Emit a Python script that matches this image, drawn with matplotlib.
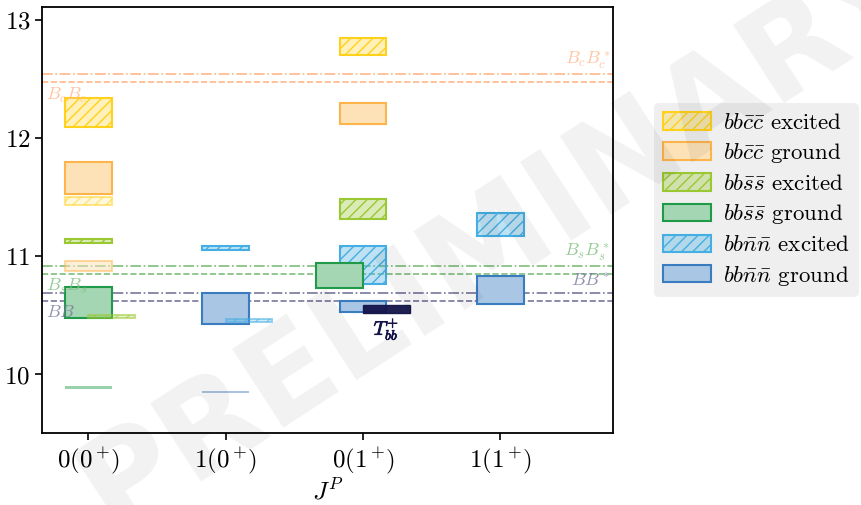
import matplotlib
matplotlib.use("Agg")
import matplotlib.pyplot as plt
import matplotlib.patheffects as pe
from matplotlib.colors import to_rgba
from matplotlib.patches import Rectangle, Patch

plt.rcParams['font.family'] = 'serif'
plt.rcParams['font.serif'] = ['cmr10', 'DejaVu Serif']
plt.rcParams['mathtext.fontset'] = 'cm'
plt.rcParams['axes.formatter.use_mathtext'] = True
plt.rcParams['axes.unicode_minus'] = False
plt.rcParams['hatch.linewidth'] = 1.0

# --- data (GeV) : (column, low, high) ---
columns = [r'$0(0^+\!)$', r'$1(0^+\!)$', r'$0(1^+\!)$', r'$1(1^+\!)$']

cc_exc = [(0, 12.10, 12.34), (2, 12.71, 12.85)]
cc_gnd = [(0, 11.53, 11.80), (2, 12.12, 12.30)]
ss_exc = [(0, 11.117, 11.151), (2, 11.32, 11.49)]
ss_gnd = [(0, 10.48, 10.74)]
nn_exc = [(1, 11.055, 11.089), (2, 10.77, 11.09), (3, 11.17, 11.37)]
nn_gnd = [(1, 10.43, 10.69), (2, 10.53, 10.62), (3, 10.60, 10.83)]

# fainter levels
cc_exc_faint = [(0, 11.434, 11.505)]
cc_gnd_faint = [(0, 10.88, 10.96)]
ss_gnd_faint = [(0, 9.877, 9.902)]
nn_gnd_faint = [(1, 9.84, 9.86)]

# levels drawn beside the column
ss_exc_right = [(0, 10.48, 10.50)]
nn_exc_right = [(1, 10.445, 10.467)]
ss_gnd_left = [(2, 10.73, 10.94)]
tbb = [(2, 10.52, 10.59)]

# thresholds: (name, value)
thr_cc = [('$B_cB_c$', 12.478), ('$B_cB_c^*$', 12.542)]
thr_ss = [('$B_sB_s$', 10.854), ('$B_sB_s^*$', 10.917)]
thr_nn = [('$BB$', 10.623), ('$BB^*$', 10.690)]

styles = {
    'cc_exc': dict(ec='#FFD11A', fc='#FFD11A', fa=0.30, hatch='///'),
    'cc_gnd': dict(ec='#FDB44B', fc='#FDE2B8', fa=1.0, hatch=None),
    'ss_exc': dict(ec='#9AC832', fc='#9AC832', fa=0.35, hatch='///'),
    'ss_gnd': dict(ec='#1E9A48', fc='#A5D6B4', fa=1.0, hatch=None),
    'nn_exc': dict(ec='#45AEE2', fc='#45AEE2', fa=0.35, hatch='///'),
    'nn_gnd': dict(ec='#3A7CC0', fc='#A9C7E4', fa=1.0, hatch=None),
}

W = 0.34

fig = plt.figure(figsize=(8.61, 5.05), dpi=100)
ax = fig.add_axes([0.0491, 0.1416, 0.663, 0.8439])


def colors(key, a=1.0):
    st = styles[key]
    return to_rgba(st['fc'], st['fa'] * a), to_rgba(st['ec'], a)


def draw(levels, key, shift=0.0, a=1.0, z=3):
    fc, ec = colors(key, a)
    for col, lo, hi in levels:
        r = Rectangle((col + shift - W / 2, lo), W, hi - lo,
                      facecolor=fc, edgecolor=ec,
                      hatch=styles[key]['hatch'], lw=1.5, zorder=z)
        ax.add_patch(r)


def draw_bar(levels, key, a):
    # very thin levels: plain solid bar
    c = to_rgba(styles[key]['ec'], a)
    for col, lo, hi in levels:
        ax.add_patch(Rectangle((col - W / 2, lo), W, hi - lo, facecolor=c,
                               edgecolor='none', zorder=3))


draw(cc_exc, 'cc_exc')
draw(cc_gnd, 'cc_gnd')
draw(ss_exc, 'ss_exc')
draw(ss_gnd, 'ss_gnd')
draw(nn_exc, 'nn_exc')
draw(nn_gnd, 'nn_gnd')
draw(cc_exc_faint, 'cc_exc', a=0.5)
draw(cc_gnd_faint, 'cc_gnd', a=0.5)
draw_bar(ss_gnd_faint, 'ss_gnd', a=0.45)
draw_bar(nn_gnd_faint, 'nn_gnd', a=0.45)
draw(ss_exc_right, 'ss_exc', shift=W / 2, a=0.55)
draw(nn_exc_right, 'nn_exc', shift=W / 2, a=0.55)
draw(ss_gnd_left, 'ss_gnd', shift=-W / 2, z=4)

navy = '#14144A'
for col, lo, hi in tbb:
    ax.add_patch(Rectangle((col, lo), W, hi - lo, facecolor=navy,
                           edgecolor=navy, lw=1.0, alpha=0.95, zorder=5))
    ax.text(col + W / 2, lo - 0.13, r'$T_{bb}^{+}$', color=navy, fontsize=14,
            ha='center', va='center',
            path_effects=[pe.withStroke(linewidth=0.6, foreground=navy)])

# thresholds
for thr, color in [(thr_cc, '#FFB68A'), (thr_ss, '#7CBF7C'), (thr_nn, '#77779C')]:
    (n1, v1), (n2, v2) = thr
    ax.axhline(v1, color=color, ls='--', lw=1.2, zorder=2)
    ax.axhline(v2, color=color, ls='-.', lw=1.2, zorder=2)
    ax.text(-0.31, v1 - 0.03, n1, color=color, alpha=0.8, fontsize=13,
            ha='left', va='top')
    ax.text(3.80, v2 + 0.03, n2, color=color, alpha=0.8, fontsize=13,
            ha='right', va='bottom')

ax.set_xlim(-0.335, 3.82)
ax.set_ylim(9.5, 13.11)
ax.set_xticks(range(len(columns)))
ax.set_xticklabels(columns)
ax.set_yticks([10, 11, 12, 13])
ax.tick_params(labelsize=18, length=5, width=1.2)
for s in ax.spines.values():
    s.set_linewidth(1.3)
ax.set_xlabel('$J^P$', fontsize=18, labelpad=2)

keys = ['cc_exc', 'cc_gnd', 'ss_exc', 'ss_gnd', 'nn_exc', 'nn_gnd']
handles = []
for k in keys:
    fc, ec = colors(k)
    handles.append(Patch(facecolor=fc, edgecolor=ec, hatch=styles[k]['hatch'], lw=1.5))
labels = [r'$bb\bar{c}\bar{c}$ excited', r'$bb\bar{c}\bar{c}$ ground',
          r'$bb\bar{s}\bar{s}$ excited', r'$bb\bar{s}\bar{s}$ ground',
          r'$bb\bar{n}\bar{n}$ excited', r'$bb\bar{n}\bar{n}$ ground']
leg = fig.legend(handles, labels, loc='upper left',
                 bbox_to_anchor=(654 / 861, 1 - 103 / 505),
                 fontsize=16.5, frameon=True, facecolor='#EFEFEF',
                 edgecolor='none', framealpha=1, handlelength=2.1,
                 handleheight=0.8, handletextpad=0.5, labelspacing=0.36,
                 borderpad=0.4, borderaxespad=0)

fig.text(0.58, 0.53, 'PRELIMINARY', rotation=33, fontsize=92,
         family='DejaVu Sans', weight='bold', color='black', alpha=0.055,
         ha='center', va='center', zorder=10)

fig.savefig('out.png', dpi=100)
